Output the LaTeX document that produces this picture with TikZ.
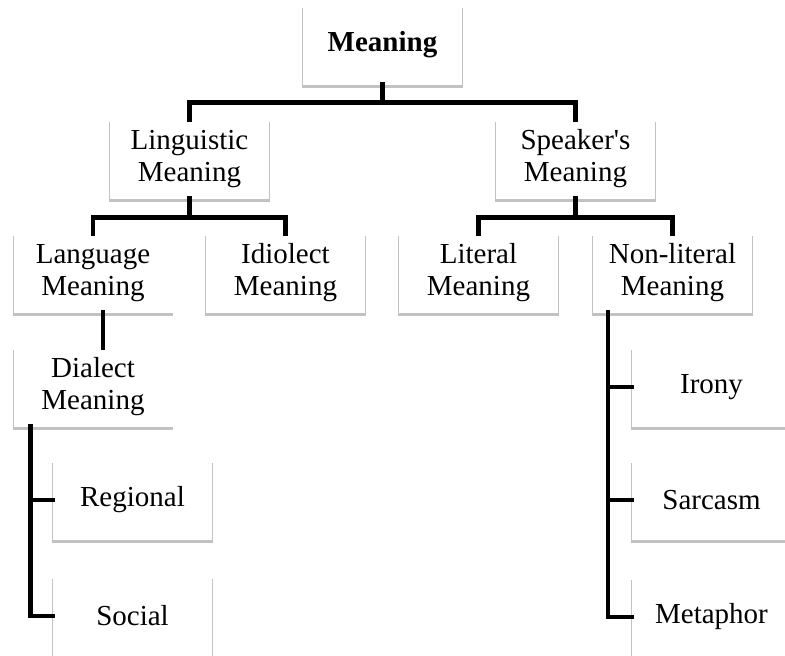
\documentclass[tikz,border=0pt]{standalone}
\usepackage{fontspec}
\setmainfont{Liberation Serif}[Ligatures=TeXOff]
\usetikzlibrary{shadows}

\begin{document}
\begin{tikzpicture}[
				x=1pt, y=-1pt,
				box/.style={fill=white, rectangle, minimum width=159pt, minimum height=79pt, inner sep=0pt, align=center,
					font=\fontsize{29}{32}\selectfont,
					drop shadow={shadow xshift=0pt, shadow yshift=-2.5pt, shadow scale=1.012, fill=black!40, opacity=0.6}},
				conn/.style={line width=4.5pt, line cap=rect}
				]
				
				\useasboundingbox (0,0) rectangle (785,656);
				
				% Root
				\node[box] (meaning) at (382.5,45) {\textbf{Meaning}};
				
				% Second level
				\node[box] (ling) at (189.5,159) {Linguistic\\Meaning};
				\node[box] (spk) at (575.5,159) {Speaker's\\Meaning};
				
				% Third level
				\node[box] (lang) at (93,273) {Language\\Meaning};
				\node[box] (idio) at (285.5,273) {Idiolect\\Meaning};
				\node[box] (lit) at (478.5,273) {Literal\\Meaning};
				\node[box] (nonlit) at (672.5,273) {Non-literal\\Meaning};
				
				% Dialect and its kinds
				\node[box] (dial) at (93,387) {Dialect\\Meaning};
				\node[box] (reg) at (132.5,500) {Regional};
				\node[box] (soc) at (132.5,616) {Social};
				
				% Kinds of non-literal meaning
				\node[box] (irony) at (711.5,387) {Irony};
				\node[box] (sarc) at (711.5,500) {Sarcasm};
				\node[box] (meta) at (711.5,617) {Metaphor};
				
				% Root to second level
				\draw[conn] (meaning.south) -- ++(0,18) -| (ling.north);
				\draw[conn] (meaning.south) -- ++(0,18) -| (spk.north);
				
				% Second to third level
				\draw[conn] (ling.south) -- ++(0,19) -| (lang.north);
				\draw[conn] (ling.south) -- ++(0,19) -| (idio.north);
				\draw[conn] (spk.south) -- ++(0,19) -| (lit.north);
				\draw[conn] (spk.south) -- ++(0,19) -| (nonlit.north);
				
				% Language to dialect
				\draw[conn] ([xshift=10pt]lang.south) -- ([xshift=10pt]dial.north);
				
				% Dialect branches
				\draw[conn] ([xshift=17pt]dial.south west) |- (reg.west);
				\draw[conn] ([xshift=17pt]dial.south west) |- (soc.west);
				
				% Non-literal branches
				\draw[conn] ([xshift=15pt]nonlit.south west) |- (irony.west);
				\draw[conn] ([xshift=15pt]nonlit.south west) |- (sarc.west);
				\draw[conn] ([xshift=15pt]nonlit.south west) |- (meta.west);
				
			\end{tikzpicture}
\end{document}
